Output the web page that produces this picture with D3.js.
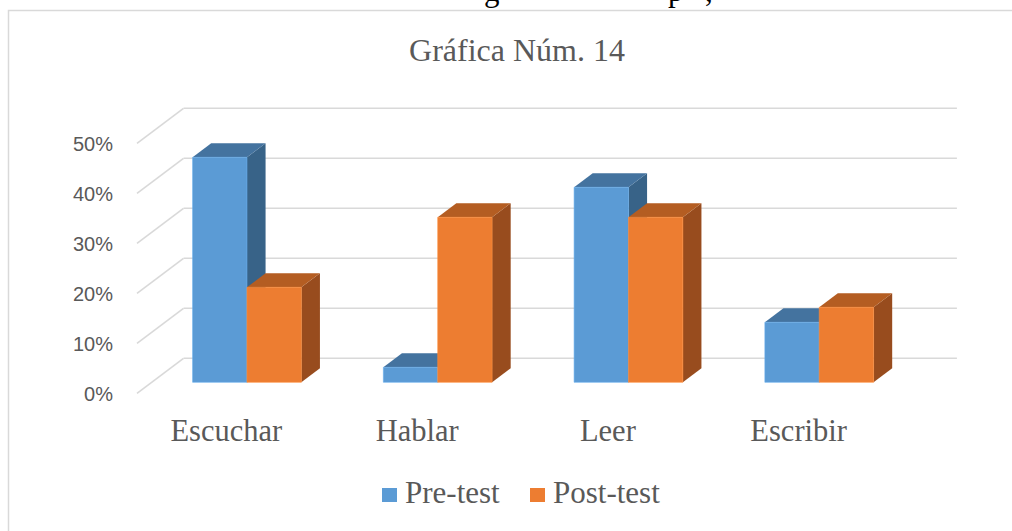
<!DOCTYPE html>
<html>
<head>
<meta charset="utf-8">
<script src="https://cdn.jsdelivr.net/npm/d3@7"></script>
<style>
html,body{margin:0;padding:0;background:#fff;}
svg{display:block;}
</style>
</head>
<body>
<svg id="chart" width="1012" height="531"></svg>
<script>
const categories = ["Escuchar", "Hablar", "Leer", "Escribir"];
const seriesNames = ["Pre-test", "Post-test"];
const preTest = [0.45, 0.03, 0.39, 0.12];
const postTest = [0.19, 0.33, 0.33, 0.15];
const tickValues = [0, 0.1, 0.2, 0.3, 0.4, 0.5];
const titleText = "Gráfica Núm. 14";
const pageFragments = ["g", "p", ","];

const colors = {
  "Pre-test": {front: "#5B9BD5", top: "#44739F", side: "#386388"},
  "Post-test": {front: "#ED7D31", top: "#B45D22", side: "#984C1E"}
};

const svg = d3.select("#chart");

// document text above the chart (only descenders visible)
const fragX = [484, 668, 705];
svg.append("g").selectAll("text").data(pageFragments).join("text")
  .attr("x", (d, i) => fragX[i]).attr("y", 1)
  .attr("font-family", "'Liberation Serif', 'Times New Roman', serif")
  .attr("font-size", 31).attr("fill", "#000").text(d => d);

// chart frame
svg.append("rect").attr("x", 8.5).attr("y", 10.5).attr("width", 1020).attr("height", 540)
  .attr("fill", "#fff").attr("stroke", "#d9d9d9").attr("stroke-width", 1.5);

// 3D geometry
const floorLeft = 137, floorRight = 900;
const depthDX = 46.5, depthDY = -35;
const y = d3.scaleLinear().domain([0, 0.5]).range([393.3, 143.3]);
const x0 = d3.scaleBand().domain(categories).range([floorLeft, floorRight]).padding(0);
const bw = x0.bandwidth();
const x1 = d3.scaleBand().domain(seriesNames).range([bw * 0.215, bw * 0.785]).padding(0);
const dFront = 0.314, dBack = 0.714;
const proj = (fx, v, d) => [fx + depthDX * d, y(v) + depthDY * d];

// gridlines
const grid = svg.append("g").attr("stroke", "#d9d9d9").attr("stroke-width", 1.6).attr("fill", "none");
tickValues.forEach(t => {
  const f = proj(floorLeft, t, 0), b = proj(floorLeft, t, 1), e = proj(floorRight + 0.4, t, 1);
  grid.append("line").attr("x1", f[0]).attr("y1", f[1]).attr("x2", b[0]).attr("y2", b[1]);
  grid.append("line").attr("x1", b[0]).attr("y1", b[1]).attr("x2", e[0] + 10).attr("y2", e[1]);
});

// tick labels
svg.append("g").selectAll("text").data(tickValues).join("text")
  .attr("x", 113).attr("y", d => y(d) + 1)
  .attr("text-anchor", "end").attr("dominant-baseline", "central")
  .attr("font-family", "'Liberation Sans', Arial, sans-serif")
  .attr("font-size", 20).attr("fill", "#595959")
  .text(d3.format(".0%"));

// bars
const data = [];
categories.forEach((c, i) => {
  data.push({cat: c, s: "Pre-test", v: preTest[i]});
  data.push({cat: c, s: "Post-test", v: postTest[i]});
});
const bars = svg.append("g");
const pts = a => a.map(p => p.join(",")).join(" ");
data.forEach(d => {
  const xl = x0(d.cat) + x1(d.s), xr = xl + x1.bandwidth();
  const g = bars.append("g");
  const ftl = proj(xl, d.v, dFront), ftr = proj(xr, d.v, dFront);
  const fbl = proj(xl, 0, dFront), fbr = proj(xr, 0, dFront);
  const btl = proj(xl, d.v, dBack), btr = proj(xr, d.v, dBack), bbr = proj(xr, 0, dBack);
  g.append("polygon").attr("points", pts([ftr, btr, bbr, fbr])).attr("fill", colors[d.s].side);
  g.append("polygon").attr("points", pts([ftl, ftr, btr, btl])).attr("fill", colors[d.s].top);
  g.append("polygon").attr("points", pts([ftl, ftr, fbr, fbl])).attr("fill", colors[d.s].front)
    .attr("stroke", d3.color(colors[d.s].front).brighter(0.3)).attr("stroke-width", 0.6);
});

// category labels
svg.append("g").selectAll("text").data(categories).join("text")
  .attr("x", d => x0(d) + bw / 2 - 6).attr("y", 441)
  .attr("text-anchor", "middle")
  .attr("font-family", "'Liberation Serif', 'Times New Roman', serif")
  .attr("font-size", 30.5).attr("fill", "#595959")
  .text(d => d);

// title
svg.append("text").attr("x", 517).attr("y", 61).attr("text-anchor", "middle")
  .attr("font-family", "'Liberation Serif', 'Times New Roman', serif")
  .attr("font-size", 32).attr("fill", "#595959").text(titleText);

// legend
const legendX = [382, 530];
const lg = svg.append("g");
seriesNames.forEach((s, i) => {
  lg.append("rect").attr("x", legendX[i]).attr("y", 488).attr("width", 15).attr("height", 14)
    .attr("fill", colors[s].front);
  lg.append("text").attr("x", legendX[i] + 23).attr("y", 503)
    .attr("font-family", "'Liberation Serif', 'Times New Roman', serif")
    .attr("font-size", 31).attr("fill", "#595959").text(s);
});
</script>
</body>
</html>
